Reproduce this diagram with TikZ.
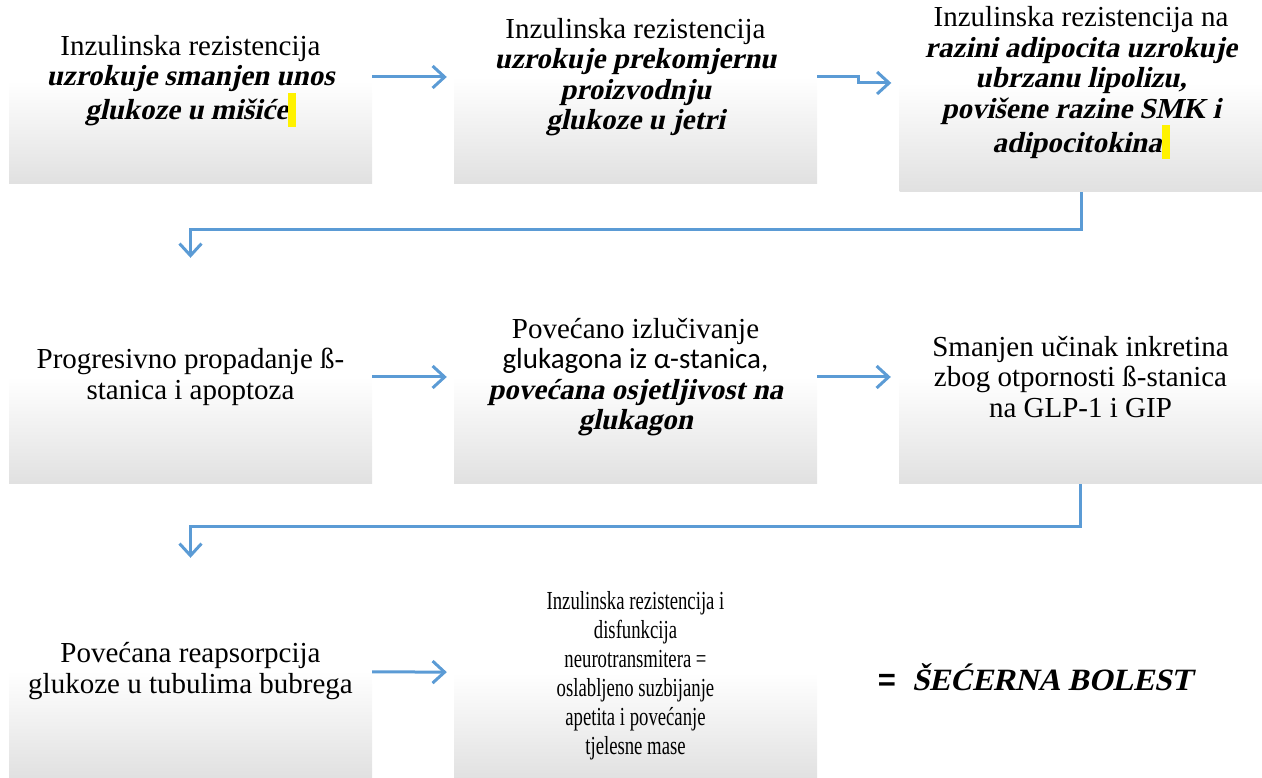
\documentclass[tikz,border=0pt]{standalone}
\usepackage{fontspec}
\usepackage{xcolor}
\usepackage{tikz}
\setmainfont{Liberation Serif}[BoldItalicFont={Liberation Serif Bold}, BoldItalicFeatures={FakeSlant=0.22}]
\newfontfamily\calibrifont{Carlito}
\newfontfamily\arialfont{Liberation Sans}
\newfontfamily\narrowfont[FakeStretch=0.72]{Liberation Serif}
\definecolor{flowblue}{RGB}{91, 155, 213}
\usetikzlibrary{arrows.meta, positioning}
\newcommand{\bit}[1]{\textbf{\textit{#1}}}
\newcommand{\hlmark}{\textcolor{yellow}{\rule[-7pt]{8pt}{34pt}}}
\tikzset{
    stepbox/.style={rectangle, minimum width=363pt, minimum height=214pt, inner sep=0pt, align=center, text centered, top color=white, bottom color=black!12, middle color=white, font=\fontsize{29}{30.5}\selectfont},
    flow/.style={draw=flowblue, line width=3pt, -{Straight Barb[length=12pt,width=22pt]}},
}
\begin{document}
\begin{tikzpicture}[x=1pt,y=1pt]
  \useasboundingbox (0,0) rectangle (1262,778);

  \node[stepbox, minimum height=206pt] (a1) at (190.5,697) {Inzulinska rezistencija\\ \bit{uzrokuje smanjen unos}\\ \bit{glukoze u mišiće}\hlmark};
  \node[stepbox] (a2) at (635.5,701) {Inzulinska rezistencija\\ \bit{uzrokuje prekomjernu}\\ \bit{proizvodnju}\\ \bit{glukoze u jetri}};
  \node[stepbox, minimum height=218pt] (a3) at (1081,695) {Inzulinska rezistencija na\\ \bit{razini adipocita uzrokuje}\\ \bit{ubrzanu lipolizu,}\\ \bit{povišene razine SMK i}\\ \bit{adipocitokina}\hlmark};

  \node[stepbox] (b1) at (190.5,401) {Progresivno propadanje ß-\\ stanica i apoptoza};
  \node[stepbox] (b2) at (635.5,401) {Povećano izlučivanje\\ {\calibrifont glukagona iz α-stanica,}\\ \bit{povećana osjetljivost na}\\ \bit{glukagon}};
  \node[stepbox] (b3) at (1080.5,401) {Smanjen učinak inkretina\\ zbog otpornosti ß-stanica\\ na GLP-1 i GIP};

  \node[stepbox] (c1) at (190.5,107) {Povećana reapsorpcija\\ glukoze u tubulima bubrega};
  \node[stepbox, font=\narrowfont\fontsize{26}{29}\selectfont, text depth=0pt] (c2) at (635.5,105) {Inzulinska rezistencija i\\ disfunkcija\\ neurotransmitera =\\ oslabljeno suzbijanje\\ apetita i povećanje\\ tjelesne mase};
  \node[font=\fontsize{31}{33}\selectfont] (res) at (1035,101) {{\arialfont\bfseries =}\hspace{16pt}\bit{ŠEĆERNA BOLEST}};

  \draw[flow, shorten >=7pt] (a1.east |- a2) -- (a2);
  \draw[flow] (a2.east) -- ++(41,0) |- ([xshift=-8pt]a3.west);
  \draw[flow] (a3.south) -- ++(0,-37) -| ([yshift=12pt]b1.north);
  \draw[flow, shorten >=7pt] (b1) -- (b2);
  \draw[flow, shorten >=8pt] (b2) -- (b3);
  \draw[flow] (b3.south) -- ++(0,-42) -| ([yshift=6pt]c1.north);
  \draw[flow, shorten >=7pt] (c1) -- (c2);
\end{tikzpicture}
\end{document}
